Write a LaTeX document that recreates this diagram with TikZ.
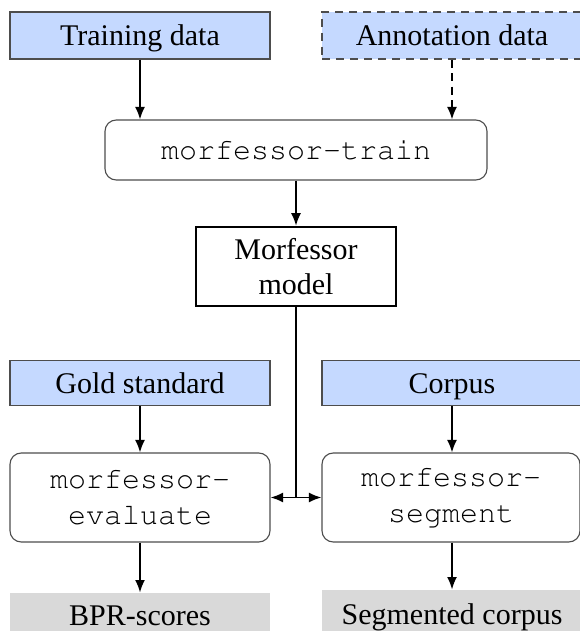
\documentclass[tikz,border=0pt]{standalone}
\usepackage[T1]{fontenc}
\usepackage{fontspec}
\setmainfont{Liberation Serif}
\setmonofont{Liberation Mono}
\newcommand\courfont{\fontencoding{T1}\fontfamily{pcr}\fontseries{m}\fontshape{n}\selectfont}
\usetikzlibrary{arrows.meta}
\definecolor{inblue}{RGB}{197,217,255}
\definecolor{outgray}{RGB}{217,217,217}
\definecolor{edgegray}{RGB}{77,77,77}
\tikzset{
  databox/.style={draw=edgegray, line width=0.45pt, fill=inblue, inner sep=0pt, font=\fontsize{12}{14}\selectfont, text height=8pt, text depth=0pt},
  progbox/.style={draw=edgegray, line width=0.45pt, rounded corners=4.5pt, inner sep=0pt, align=center, font=\courfont\fontsize{12}{14.5}\selectfont},
  modelbox/.style={draw=black, line width=1pt, inner sep=0pt, align=center, font=\fontsize{12}{13.8}\selectfont},
  resultbox/.style={fill=outgray, inner sep=0pt, font=\fontsize{12}{14}\selectfont, text height=8pt, text depth=0pt},
  flow/.style={line width=0.65pt, -{Latex[length=5pt,width=4pt]}},
  dflow/.style={flow, dash pattern=on 3.2pt off 2.2pt},
}
\begin{document}
\begin{tikzpicture}[x=0.4pt,y=-0.4pt]
\useasboundingbox (0,0) rectangle (579,631);
% inputs
\node[databox, minimum width=104pt, minimum height=18.8pt] (train) at (140,35.5) {Training data};
\node[databox, dash pattern=on 3.2pt off 2.4pt, minimum width=104pt, minimum height=18.8pt] (annot) at (452,35.5) {Annotation data};
% train program
\node[progbox, minimum width=152.8pt, minimum height=24pt] (mtrain) at (296,150) {morfessor-train};
% model
\node[modelbox, minimum width=80pt, minimum height=31.6pt] (model) at (296,266.5) {Morfessor\\model};
% second row inputs
\node[databox, minimum width=104pt, minimum height=18pt] (gold) at (140,383) {Gold standard};
\node[databox, minimum width=104pt, minimum height=18pt] (corpus) at (452,383) {Corpus};
% programs
\node[progbox, minimum width=104pt, minimum height=35.6pt] (eval) at (140,497.5) {morfessor-\\evaluate};
\node[progbox, minimum width=103.2pt, minimum height=35.6pt] (segm) at (451,497.5) {morfessor-\\segment};
% outputs
\node[resultbox, minimum width=104pt, minimum height=17.6pt] (bpr) at (140,615) {BPR-scores};
\node[resultbox, minimum width=104pt, minimum height=19.2pt] (segc) at (452,614) {Segmented corpus};
% connectors
\draw[flow] (train.south) -- (train.south |- mtrain.north);
\draw[dflow] (annot.south) -- (annot.south |- mtrain.north);
\draw[flow] (mtrain.south) -- (model.north);
\draw[line width=0.65pt] (model.south) -- (model.south |- eval.east) coordinate (junction);
\draw[line width=0.65pt, {Latex[length=5pt,width=4pt]}-{Latex[length=5pt,width=4pt]}] (eval.east) -- (segm.west);
\draw[flow] (gold.south) -- (gold.south |- eval.north);
\draw[flow] (corpus.south) -- (corpus.south |- segm.north);
\draw[flow] (eval.south) -- (eval.south |- bpr.north);
\draw[flow] (segm.south -| segc.north) -- (segc.north);
\end{tikzpicture}
\end{document}
